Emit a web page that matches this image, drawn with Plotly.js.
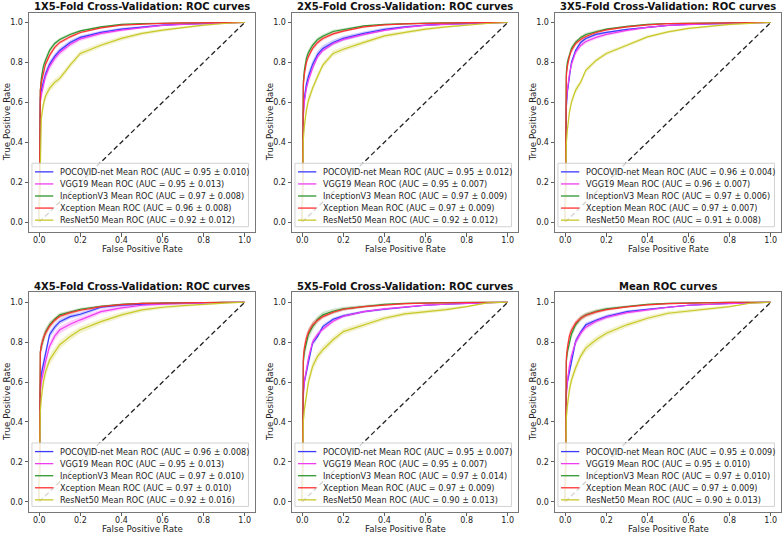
<!DOCTYPE html>
<html><head><meta charset="utf-8">
<script src="https://cdn.plot.ly/plotly-3.0.1.min.js"></script>
<style>html,body{margin:0;padding:0;background:#fff}#chart{width:783px;height:534px}</style>
</head><body><div id="chart"></div>
<script>
// ---------- shared ----------
const FPR = [0, 0.005, 0.01, 0.02, 0.03, 0.05, 0.075, 0.1, 0.15, 0.2, 0.3, 0.4, 0.5, 0.6, 0.7, 0.8, 0.9, 1.0];
const MODELS = ['POCOVID-net', 'VGG19', 'InceptionV3', 'Xception', 'ResNet50'];
const COLORS = ['#3a3aff', '#ee3cee', '#2f962f', '#ff3030', '#c8c828'];
const BAND_COLORS = ['rgba(0,0,255,0.2)', 'rgba(255,0,255,0.2)', 'rgba(0,128,0,0.2)', 'rgba(255,0,0,0.2)', 'rgba(191,191,0,0.2)'];
const PANEL_TITLES = ['1X5-Fold Cross-Validation: ROC curves', '2X5-Fold Cross-Validation: ROC curves', '3X5-Fold Cross-Validation: ROC curves',
                      '4X5-Fold Cross-Validation: ROC curves', '5X5-Fold Cross-Validation: ROC curves', 'Mean ROC curves'];
const X_LABEL = 'False Positive Rate';
const Y_LABEL = 'True Positive Rate';
const X_TICKS = [0, 0.2, 0.4, 0.6, 0.8, 1.0];
const Y_TICKS = [0, 0.2, 0.4, 0.6, 0.8, 1.0];
const DIAG = [0, 1];

// ---------- AUC (mean, std) per panel, model order as MODELS ----------
const AUC_MEAN_P1 = [0.95, 0.95, 0.97, 0.96, 0.92]; const AUC_STD_P1 = [0.010, 0.013, 0.008, 0.008, 0.012];
const AUC_MEAN_P2 = [0.95, 0.95, 0.97, 0.97, 0.92]; const AUC_STD_P2 = [0.012, 0.007, 0.009, 0.009, 0.012];
const AUC_MEAN_P3 = [0.96, 0.96, 0.97, 0.97, 0.91]; const AUC_STD_P3 = [0.004, 0.007, 0.006, 0.007, 0.008];
const AUC_MEAN_P4 = [0.96, 0.95, 0.97, 0.97, 0.92]; const AUC_STD_P4 = [0.008, 0.013, 0.010, 0.010, 0.016];
const AUC_MEAN_P5 = [0.95, 0.95, 0.97, 0.97, 0.90]; const AUC_STD_P5 = [0.007, 0.007, 0.014, 0.009, 0.013];
const AUC_MEAN_P6 = [0.95, 0.95, 0.97, 0.97, 0.90]; const AUC_STD_P6 = [0.009, 0.010, 0.010, 0.009, 0.013];

// ---------- Panel 1 mean TPR ----------
const p1_pocovid = [0, .62, .66, .70, .74, .79, .83, .86, .90, .925, .95, .967, .978, .987, .992, .995, .998, 1];
const p1_vgg19   = [0, .60, .64, .69, .73, .78, .82, .85, .89, .918, .945, .962, .975, .985, .990, .994, .997, 1];
const p1_incep   = [0, .66, .72, .78, .81, .86, .895, .915, .94, .958, .978, .990, .995, .997, .998, .999, 1, 1];
const p1_xcep    = [0, .66, .70, .75, .79, .835, .875, .90, .928, .95, .973, .987, .993, .996, .998, .999, 1, 1];
const p1_resnet  = [0, .35, .52, .59, .63, .67, .70, .72, .786, .845, .886, .92, .945, .962, .975, .987, .995, 1];
// ---------- Panel 2 ----------
const p2_pocovid = [0, .55, .62, .69, .73, .79, .84, .87, .90, .92, .945, .965, .978, .987, .992, .995, .998, 1];
const p2_vgg19   = [0, .52, .60, .67, .71, .77, .83, .86, .895, .915, .94, .96, .975, .985, .99, .994, .997, 1];
const p2_incep   = [0, .70, .76, .82, .85, .886, .915, .931, .955, .965, .983, .99, .994, .997, .998, .999, 1, 1];
const p2_xcep    = [0, .68, .74, .80, .83, .87, .90, .92, .943, .957, .978, .988, .993, .996, .998, .999, 1, 1];
const p2_resnet  = [0, .41, .48, .56, .61, .67, .73, .786, .845, .866, .90, .933, .95, .967, .978, .988, .995, 1];
// ---------- Panel 3 ----------
const p3_pocovid = [0, .57, .65, .74, .80, .86, .90, .92, .94, .95, .965, .975, .985, .99, .993, .996, .998, 1];
const p3_vgg19   = [0, .60, .66, .74, .79, .85, .885, .905, .925, .94, .96, .975, .985, .99, .993, .996, .998, 1];
const p3_incep   = [0, .75, .80, .84, .87, .90, .925, .94, .955, .967, .98, .99, .995, .997, .998, .999, 1, 1];
const p3_xcep    = [0, .73, .78, .83, .86, .894, .915, .93, .95, .963, .978, .988, .994, .996, .998, .999, 1, 1];
const p3_resnet  = [0, .39, .46, .55, .60, .66, .70, .76, .81, .845, .886, .928, .953, .97, .98, .99, .996, 1];
// ---------- Panel 4 ----------
const p4_pocovid = [0, .58, .64, .70, .74, .837, .875, .903, .928, .94, .975, .985, .99, .994, .996, .998, .999, 1];
const p4_vgg19   = [0, .55, .60, .66, .70, .78, .83, .862, .89, .912, .953, .972, .985, .99, .994, .997, .999, 1];
const p4_incep   = [0, .75, .78, .82, .85, .887, .915, .937, .95, .965, .98, .99, .995, .997, .998, .999, 1, 1];
const p4_xcep    = [0, .75, .78, .82, .845, .88, .91, .93, .948, .96, .978, .988, .994, .996, .998, .999, 1, 1];
const p4_resnet  = [0, .45, .52, .60, .65, .71, .75, .787, .828, .862, .903, .937, .962, .975, .983, .99, .996, 1];
// ---------- Panel 5 ----------
const p5_pocovid = [0, .55, .60, .66, .70, .795, .83, .878, .915, .932, .953, .965, .975, .985, .99, .995, .998, 1];
const p5_vgg19   = [0, .52, .60, .67, .72, .80, .84, .865, .905, .93, .953, .967, .977, .986, .991, .995, .998, 1];
const p5_incep   = [0, .70, .75, .80, .84, .878, .915, .937, .955, .967, .98, .99, .994, .997, .998, .999, 1, 1];
const p5_xcep    = [0, .72, .77, .82, .85, .887, .91, .928, .95, .965, .978, .987, .993, .996, .998, .999, 1, 1];
const p5_resnet  = [0, .40, .46, .54, .60, .678, .73, .762, .812, .853, .887, .92, .942, .953, .963, .978, .997, 1];
// ---------- Panel 6 (mean) ----------
const p6_pocovid = [0, .55, .60, .66, .70, .803, .85, .887, .91, .928, .953, .965, .975, .985, .99, .995, .998, 1];
const p6_vgg19   = [0, .52, .60, .68, .73, .80, .845, .875, .905, .925, .948, .962, .975, .985, .99, .994, .997, 1];
const p6_incep   = [0, .70, .75, .80, .84, .887, .92, .937, .955, .967, .98, .99, .994, .997, .998, .999, 1, 1];
const p6_xcep    = [0, .72, .77, .83, .86, .895, .92, .935, .952, .963, .977, .987, .993, .996, .998, .999, 1, 1];
const p6_resnet  = [0, .42, .48, .56, .61, .67, .73, .77, .812, .845, .887, .92, .945, .957, .967, .978, .995, 1];

// ---------- std of TPR (band half-widths) ----------
const p1_pocovid_sd = [0, .03, .03, .025, .02, .018, .015, .013, .011, .010, .008, .006, .005, .004, .003, .002, .001, 0];
const p1_vgg19_sd   = [0, .035, .035, .03, .025, .02, .018, .016, .013, .011, .009, .007, .005, .004, .003, .002, .001, 0];
const p1_incep_sd   = [0, .03, .025, .02, .015, .012, .010, .008, .007, .006, .004, .003, .002, .002, .001, .001, 0, 0];
const p1_xcep_sd    = [0, .03, .025, .02, .016, .013, .011, .009, .008, .006, .005, .003, .002, .002, .001, .001, 0, 0];
const p1_resnet_sd  = [0, .04, .035, .03, .025, .02, .018, .016, .015, .014, .012, .011, .009, .008, .006, .005, .003, 0];

const p2_pocovid_sd = [0, .035, .03, .028, .024, .02, .018, .016, .014, .012, .01, .008, .006, .004, .003, .002, .001, 0];
const p2_vgg19_sd   = [0, .03, .025, .02, .018, .015, .012, .01, .009, .008, .006, .005, .004, .003, .002, .001, .001, 0];
const p2_incep_sd   = [0, .03, .025, .02, .016, .013, .011, .01, .008, .006, .004, .003, .002, .002, .001, .001, 0, 0];
const p2_xcep_sd    = [0, .03, .025, .02, .016, .013, .011, .01, .008, .006, .005, .003, .002, .002, .001, .001, 0, 0];
const p2_resnet_sd  = [0, .04, .035, .03, .025, .02, .018, .016, .014, .013, .011, .01, .009, .008, .006, .005, .003, 0];

const p3_pocovid_sd = [0, .02, .018, .015, .012, .01, .008, .007, .006, .005, .004, .003, .002, .002, .001, .001, 0, 0];
const p3_vgg19_sd   = [0, .03, .025, .02, .017, .014, .012, .01, .009, .008, .006, .005, .004, .003, .002, .001, .001, 0];
const p3_incep_sd   = [0, .025, .02, .017, .014, .011, .009, .008, .007, .005, .004, .003, .002, .001, .001, .001, 0, 0];
const p3_xcep_sd    = [0, .028, .023, .019, .016, .013, .011, .009, .008, .006, .005, .003, .002, .002, .001, .001, 0, 0];
const p3_resnet_sd  = [0, .03, .028, .024, .02, .017, .015, .013, .011, .01, .009, .008, .007, .006, .005, .004, .002, 0];

const p4_pocovid_sd = [0, .035, .03, .025, .022, .018, .015, .013, .011, .01, .008, .006, .005, .004, .003, .002, .001, 0];
const p4_vgg19_sd   = [0, .04, .035, .03, .026, .022, .02, .018, .016, .014, .011, .009, .007, .005, .004, .003, .001, 0];
const p4_incep_sd   = [0, .035, .03, .025, .02, .016, .013, .011, .009, .007, .005, .004, .003, .002, .001, .001, 0, 0];
const p4_xcep_sd    = [0, .035, .03, .025, .02, .016, .013, .011, .009, .007, .005, .004, .003, .002, .001, .001, 0, 0];
const p4_resnet_sd  = [0, .045, .04, .035, .03, .026, .023, .021, .019, .017, .015, .013, .011, .009, .007, .006, .003, 0];

const p5_pocovid_sd = [0, .03, .025, .022, .019, .016, .013, .011, .009, .008, .006, .005, .004, .003, .002, .001, .001, 0];
const p5_vgg19_sd   = [0, .03, .025, .022, .019, .016, .013, .011, .009, .008, .006, .005, .004, .003, .002, .001, .001, 0];
const p5_incep_sd   = [0, .045, .04, .033, .028, .022, .018, .015, .012, .01, .007, .005, .004, .003, .002, .001, .001, 0];
const p5_xcep_sd    = [0, .035, .03, .025, .02, .016, .013, .011, .009, .007, .005, .004, .003, .002, .001, .001, 0, 0];
const p5_resnet_sd  = [0, .04, .037, .032, .028, .024, .021, .019, .017, .015, .013, .011, .01, .009, .008, .006, .003, 0];

const p6_pocovid_sd = [0, .032, .028, .024, .02, .017, .014, .012, .01, .009, .007, .006, .004, .003, .002, .001, .001, 0];
const p6_vgg19_sd   = [0, .035, .03, .025, .022, .018, .015, .013, .011, .01, .008, .006, .005, .004, .003, .002, .001, 0];
const p6_incep_sd   = [0, .035, .03, .025, .021, .017, .014, .012, .01, .008, .006, .004, .003, .002, .001, .001, 0, 0];
const p6_xcep_sd    = [0, .033, .028, .023, .019, .015, .013, .011, .009, .007, .005, .004, .003, .002, .001, .001, 0, 0];
const p6_resnet_sd  = [0, .04, .037, .032, .028, .024, .021, .019, .017, .015, .013, .011, .01, .009, .008, .006, .003, 0];

// ---------- assemble ----------
const PANELS = [
  {tpr: [p1_pocovid, p1_vgg19, p1_incep, p1_xcep, p1_resnet], sd: [p1_pocovid_sd, p1_vgg19_sd, p1_incep_sd, p1_xcep_sd, p1_resnet_sd], m: AUC_MEAN_P1, s: AUC_STD_P1},
  {tpr: [p2_pocovid, p2_vgg19, p2_incep, p2_xcep, p2_resnet], sd: [p2_pocovid_sd, p2_vgg19_sd, p2_incep_sd, p2_xcep_sd, p2_resnet_sd], m: AUC_MEAN_P2, s: AUC_STD_P2},
  {tpr: [p3_pocovid, p3_vgg19, p3_incep, p3_xcep, p3_resnet], sd: [p3_pocovid_sd, p3_vgg19_sd, p3_incep_sd, p3_xcep_sd, p3_resnet_sd], m: AUC_MEAN_P3, s: AUC_STD_P3},
  {tpr: [p4_pocovid, p4_vgg19, p4_incep, p4_xcep, p4_resnet], sd: [p4_pocovid_sd, p4_vgg19_sd, p4_incep_sd, p4_xcep_sd, p4_resnet_sd], m: AUC_MEAN_P4, s: AUC_STD_P4},
  {tpr: [p5_pocovid, p5_vgg19, p5_incep, p5_xcep, p5_resnet], sd: [p5_pocovid_sd, p5_vgg19_sd, p5_incep_sd, p5_xcep_sd, p5_resnet_sd], m: AUC_MEAN_P5, s: AUC_STD_P5},
  {tpr: [p6_pocovid, p6_vgg19, p6_incep, p6_xcep, p6_resnet], sd: [p6_pocovid_sd, p6_vgg19_sd, p6_incep_sd, p6_xcep_sd, p6_resnet_sd], m: AUC_MEAN_P6, s: AUC_STD_P6}
];

const W = 783, H = 534;
const COLS_PX = [[29, 255], [292, 518], [555, 781]];
const ROWS_PX = [[12.5, 232], [292.3, 511.7]];
const FONT = 'DejaVu Sans, Arial, sans-serif';

const traces = [];
const layout = {
  width: W, height: H, margin: {l: 0, r: 0, t: 0, b: 0, pad: 0},
  paper_bgcolor: '#fff', plot_bgcolor: '#fff', showlegend: false,
  font: {family: FONT, color: '#222'},
  shapes: [], annotations: []
};

PANELS.forEach((p, i) => {
  const k = i + 1;
  const xa = 'x' + (k === 1 ? '' : k), ya = 'y' + (k === 1 ? '' : k);
  const col = i % 3, row = Math.floor(i / 3);
  const c = COLS_PX[col], r = ROWS_PX[row];
  const axBase = {
    range: [-0.05, 1.05], ticks: 'outside', ticklen: 3.5, tickwidth: 0.8, tickcolor: '#333',
    showline: true, mirror: true, linecolor: '#777', linewidth: 1, showgrid: false, zeroline: false,
    tickfont: {size: 8, color: '#222', family: FONT}, tickformat: '.1f', fixedrange: true, automargin: false
  };
  layout['xaxis' + (k === 1 ? '' : k)] = Object.assign({}, axBase, {
    domain: [c[0] / W, c[1] / W], anchor: ya, tickvals: X_TICKS, ticklabelstandoff: -3
  });
  layout['yaxis' + (k === 1 ? '' : k)] = Object.assign({}, axBase, {
    domain: [1 - r[1] / H, 1 - r[0] / H], anchor: xa, tickvals: Y_TICKS
  });

  // diagonal chance line
  traces.push({x: DIAG, y: DIAG, xaxis: xa, yaxis: ya, mode: 'lines', hoverinfo: 'skip',
               line: {color: '#222', width: 1.3, dash: '5px,3px'}, showlegend: false});

  // std bands then mean lines
  p.tpr.forEach((t, j) => {
    const up = t.map((v, n) => Math.min(v + p.sd[j][n], 1));
    const lo = t.map((v, n) => Math.max(v - p.sd[j][n], 0));
    traces.push({x: FPR.concat(FPR.slice().reverse()), y: up.concat(lo.slice().reverse()),
                 xaxis: xa, yaxis: ya, mode: 'lines', fill: 'toself', fillcolor: BAND_COLORS[j],
                 line: {width: 0}, hoverinfo: 'skip', showlegend: false});
  });
  p.tpr.forEach((t, j) => {
    traces.push({x: FPR, y: t, xaxis: xa, yaxis: ya, mode: 'lines', name: MODELS[j] + ' Mean ROC',
                 line: {color: COLORS[j], width: 1.2}, showlegend: false});
  });

  // subplot title
  layout.annotations.push({xref: xa + ' domain', yref: ya + ' domain', x: 0.5, y: 1, yanchor: 'bottom', yshift: -1.5,
    xanchor: 'center', showarrow: false, text: '<b>' + PANEL_TITLES[i] + '</b>', font: {size: 10, color: '#111', family: FONT}});
  // axis labels
  layout.annotations.push({xref: xa + ' domain', yref: ya + ' domain', x: 0.5, y: 0, yanchor: 'middle', yshift: -16.8,
    xanchor: 'center', showarrow: false, borderpad: 0, text: X_LABEL, font: {size: 8.7, color: '#222', family: FONT}});
  layout.annotations.push({xref: xa + ' domain', yref: ya + ' domain', x: 0, y: 0.5, xanchor: 'center', yanchor: 'middle', xshift: -22,
    textangle: -90, showarrow: false, borderpad: 0, text: Y_LABEL, font: {size: 8.7, color: '#222', family: FONT}});

  // legend box (matplotlib-style, lower right)
  layout.shapes.push({type: 'rect', xref: xa + ' domain', yref: ya + ' domain', x0: 0.013, x1: 0.971, y0: 0.024, y1: 0.313,
    fillcolor: 'rgba(255,255,255,0.8)', line: {color: '#d2d2d2', width: 1}, layer: 'above'});
  const ys = [0.274, 0.219, 0.164, 0.109, 0.054];
  MODELS.forEach((mname, j) => {
    layout.shapes.push({type: 'line', xref: xa + ' domain', yref: ya + ' domain', x0: 0.0265, x1: 0.1075, y0: ys[j], y1: ys[j],
      line: {color: COLORS[j], width: 1.3}, layer: 'above'});
    layout.annotations.push({xref: xa + ' domain', yref: ya + ' domain', x: 0.1296, y: ys[j], xanchor: 'left', yanchor: 'middle',
      showarrow: false, text: mname + ' Mean ROC (AUC = ' + p.m[j].toFixed(2) + ' ± ' + p.s[j].toFixed(3) + ')',
      font: {size: 8.1, color: '#222', family: FONT}});
  });
});

Plotly.newPlot('chart', traces, layout, {displayModeBar: false, staticPlot: true});
</script></body></html>
